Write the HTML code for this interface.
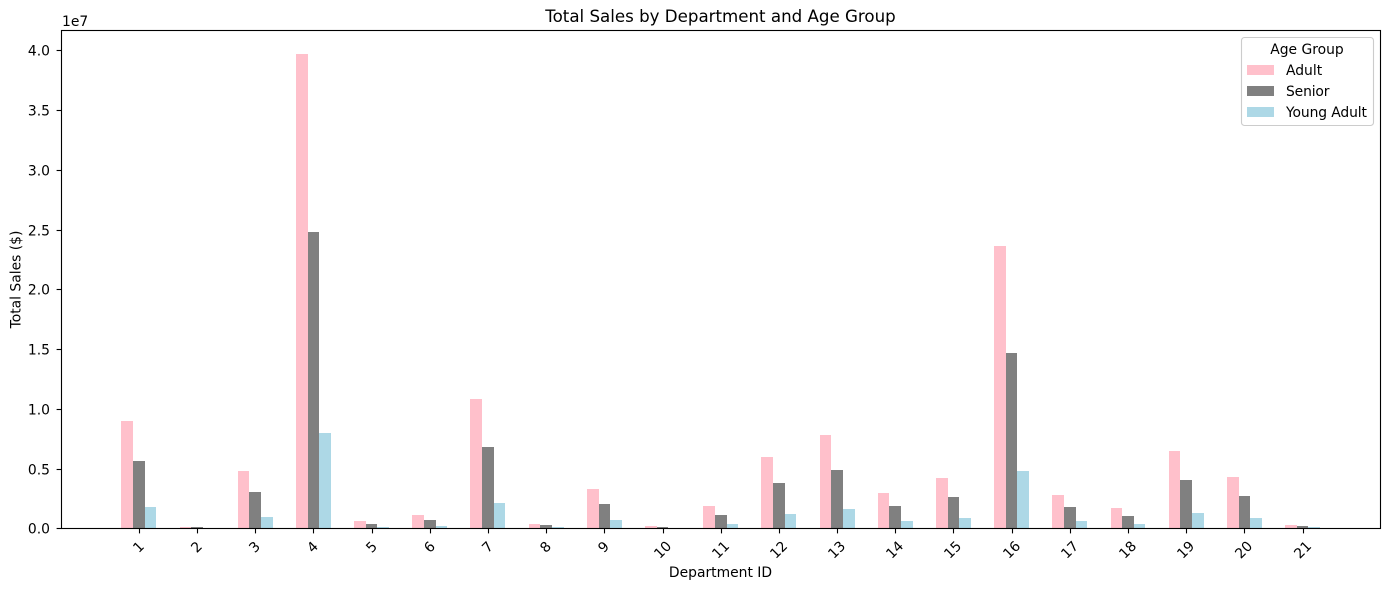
<!DOCTYPE html>
<html lang="en">
<head>
<meta charset="utf-8">
<title>Total Sales by Department and Age Group</title>
<style>
html,body{margin:0;padding:0;background:#fff;width:1390px;height:590px;overflow:hidden}
svg{display:block}
text{font-family:"DejaVu Sans",sans-serif;fill:#000;font-size:13.89px}
</style>
</head>
<body>
<svg id="chart" width="1390" height="590" viewBox="0 0 1390 590" xmlns="http://www.w3.org/2000/svg">
  <rect x="0" y="0" width="1390" height="590" fill="#fff"/>
  <text x="720.5" y="22" text-anchor="middle" style="font-size:16.67px">Total Sales by Department and Age Group</text>
  <text transform="translate(20.5,279.5) rotate(-90)" text-anchor="middle">Total Sales ($)</text>
  <text x="720.5" y="577" text-anchor="middle">Department ID</text>
  <text x="62" y="26">1e7</text>
  <g id="bars" shape-rendering="crispEdges"></g>
  <g id="ticks"></g>
  <rect x="61.5" y="30.5" width="1319" height="498" fill="none" stroke="#000" stroke-width="1.11"/>
  <g>
    <rect x="1241.5" y="37.5" width="132" height="88" rx="3" fill="#fff" fill-opacity="0.8" stroke="#ccc" stroke-width="1.11"/>
    <text x="1307" y="54" text-anchor="middle">Age Group</text>
    <g>
      <rect x="1247" y="65" width="27" height="10" fill="#ffc0cb"/>
      <text x="1286" y="75">Adult</text>
    </g>
    <g>
      <rect x="1247" y="86" width="27" height="10" fill="#808080"/>
      <text x="1286" y="96" textLength="43.5">Senior</text>
    </g>
    <g>
      <rect x="1247" y="107" width="27" height="10" fill="#add8e6"/>
      <text x="1286" y="117" textLength="81">Young Adult</text>
    </g>
  </g>
</svg>
<script>
const departments = [1,2,3,4,5,6,7,8,9,10,11,12,13,14,15,16,17,18,19,20,21];
const adultSales = [9.02,0.15,4.84,39.73,0.65,1.15,10.85,0.4,3.32,0.23,1.91,6.0,7.85,3.0,4.25,23.66,2.83,1.74,6.51,4.33,0.32];
const seniorSales = [5.67,0.15,3.08,24.83,0.4,0.74,6.85,0.32,2.07,0.15,1.15,3.83,4.92,1.91,2.66,14.71,1.82,1.07,4.08,2.74,0.23];
const youngAdultSales = [1.8,0.02,0.99,8.02,0.15,0.23,2.16,0.15,0.74,0.04,0.4,1.24,1.66,0.65,0.9,4.84,0.65,0.4,1.32,0.9,0.15];
const yTickLabels = ["0.0","0.5","1.0","1.5","2.0","2.5","3.0","3.5","4.0"];

const NS = 'http://www.w3.org/2000/svg';
const ZERO_Y = 528.8;
const PX_PER_UNIT = 11.95;
const FIRST_X = 138.81;
const STEP_X = 58.19;
const BAR_W = 0.2;

function xScale(i) { return FIRST_X + i * STEP_X; }
function yScale(v) { return ZERO_Y - v * PX_PER_UNIT; }

const barsLayer = document.getElementById('bars');
const ticksLayer = document.getElementById('ticks');

function drawSeries(values, color, offset, name) {
  values.forEach(function (v, i) {
    const r = document.createElementNS(NS, 'rect');
    
    
    const x0 = Math.round(xScale(i + offset - BAR_W / 2));
    const x1 = Math.round(xScale(i + offset + BAR_W / 2));
    const top = Math.round(yScale(v));
    const base = Math.round(yScale(0));
    r.setAttribute('x', x0);
    r.setAttribute('y', top);
    r.setAttribute('width', x1 - x0);
    r.setAttribute('height', Math.max(0, base - top));
    r.setAttribute('fill', color);
    barsLayer.appendChild(r);
  });
}
drawSeries(adultSales, '#ffc0cb', -BAR_W, 'adult');
drawSeries(seniorSales, '#808080', 0, 'senior');
drawSeries(youngAdultSales, '#add8e6', BAR_W, 'young-adult');

function tickLine(x1, y1, x2, y2, name) {
  const l = document.createElementNS(NS, 'line');
  
  
  l.setAttribute('x1', x1);
  l.setAttribute('y1', y1);
  l.setAttribute('x2', x2);
  l.setAttribute('y2', y2);
  l.setAttribute('stroke', '#000');
  l.setAttribute('stroke-width', '1.11');
  ticksLayer.appendChild(l);
}

departments.forEach(function (d, i) {
  const x = Math.round(xScale(i)) + 0.5;
  tickLine(x, 528.5, x, 533.4, 'x-tick-' + d);
  const twoDigit = String(d).length > 1;
  const cx = x - (twoDigit ? 1 : 1.2);
  const cy = twoDigit ? 549.6 : 546.8;
  const t = document.createElementNS(NS, 'text');
  
  
  t.setAttribute('text-anchor', 'middle');
  t.setAttribute('transform', 'translate(' + cx + ',' + cy + ') rotate(-45)');
  t.setAttribute('y', 5);
  t.textContent = d;
  ticksLayer.appendChild(t);
});

yTickLabels.forEach(function (label) {
  const v = parseFloat(label) * 10;
  const y = Math.floor(yScale(v)) + 0.5;
  tickLine(61.5, y, 56.6, y, 'y-tick-' + label);
  const t = document.createElementNS(NS, 'text');
  
  
  t.setAttribute('text-anchor', 'end');
  t.setAttribute('x', 50);
  t.setAttribute('y', y + 5);
  t.textContent = label;
  ticksLayer.appendChild(t);
});
</script>
</body>
</html>
